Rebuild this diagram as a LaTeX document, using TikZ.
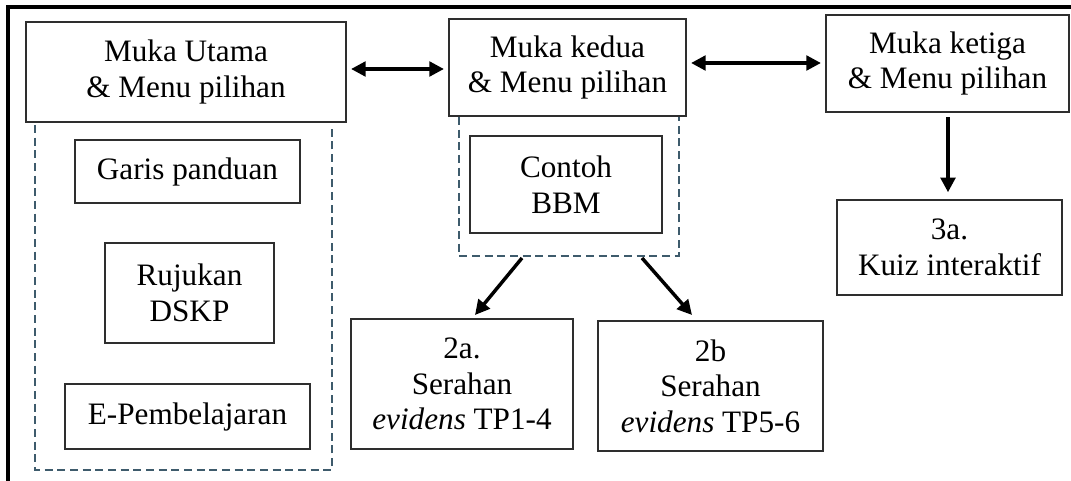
\documentclass[tikz,border=0pt]{standalone}
\usepackage{fontspec}
\setmainfont{Liberation Serif}
\usetikzlibrary{arrows.meta}
\definecolor{dashc}{HTML}{3E5B6C}
\definecolor{boxc}{HTML}{2E2E2E}
\tikzset{
  px/.style={x=0.75pt,y=-0.75pt},
  box/.style={draw=boxc,line width=1.6pt,align=center,inner sep=0pt,
    font=\fontsize{23.4}{26.6}\selectfont},
  grp/.style={draw=dashc,line width=1.4pt,dash pattern=on 6pt off 3.5pt},
  arr/.style={line width=2.6pt,-{Triangle[length=11pt,width=11pt]}},
  darr/.style={line width=2.6pt,{Triangle[length=11pt,width=11pt]}-{Triangle[length=11pt,width=11pt]}},
  frame/.style={line width=2.6pt,black}
}
\newcommand{\bx}[6]{% name, x1, y1, x2, y2, text
  \node[box,minimum width={(#4-#2)*0.75pt},minimum height={(#5-#3)*0.75pt}]
    (#1) at ({(#2+#4)/2},{(#3+#5)/2}) {#6};}
\begin{document}
\begin{tikzpicture}[px]
\useasboundingbox (0,0) rectangle (1071,481);
% outer frame (top and left only)
\coordinate (ftl) at (8,7);
\coordinate (ftr) at (1075,7);
\coordinate (fbl) at (8,485);
\draw[frame] (ftr) -- (ftl) -- (fbl);
% dashed groups
\draw[grp] (35,125) -- (35,470) -- (332,470) -- (332,125);
\draw[grp] (459,117) -- (459,256) -- (679,256) -- (679,117);
% boxes
\bx{m1}{26}{22}{346}{122}{Muka Utama\\\& Menu pilihan}
\bx{m2}{449}{19}{686}{116}{Muka kedua\\\& Menu pilihan}
\bx{m3}{826}{15}{1069}{112}{Muka ketiga\\\& Menu pilihan}
\bx{gp}{75}{140}{300}{203}{Garis panduan}
\bx{rd}{105}{243}{274}{343}{Rujukan\\DSKP}
\bx{ep}{65}{384}{310}{449}{E-Pembelajaran}
\bx{cb}{470}{136}{662}{233}{Contoh\\BBM}
\bx{s2a}{351}{319}{573}{449}{2a.\\Serahan\\\textit{evidens} TP1-4}
\bx{s2b}{598}{321}{823}{451}{2b\\Serahan\\\textit{evidens} TP5-6}
\bx{k3a}{837}{200}{1062}{295}{3a.\\Kuiz interaktif}
% connectors
\coordinate (g2l) at (522,258);
\coordinate (g2r) at (642,258);
\draw[darr] ([xshift=3pt]m1.east |- 0,69) -- ([xshift=-3pt]m2.west |- 0,69);
\draw[darr] ([xshift=3pt]m2.east |- 0,63) -- ([xshift=-3pt]m3.west |- 0,63);
\draw[arr] (g2l) -- (475,315);
\draw[arr] (g2r) -- (692,315);
\draw[arr] ([yshift=-3pt]m3.south -| 948,0) -- ([yshift=5pt]k3a.north -| 948,0);
\end{tikzpicture}
\end{document}
